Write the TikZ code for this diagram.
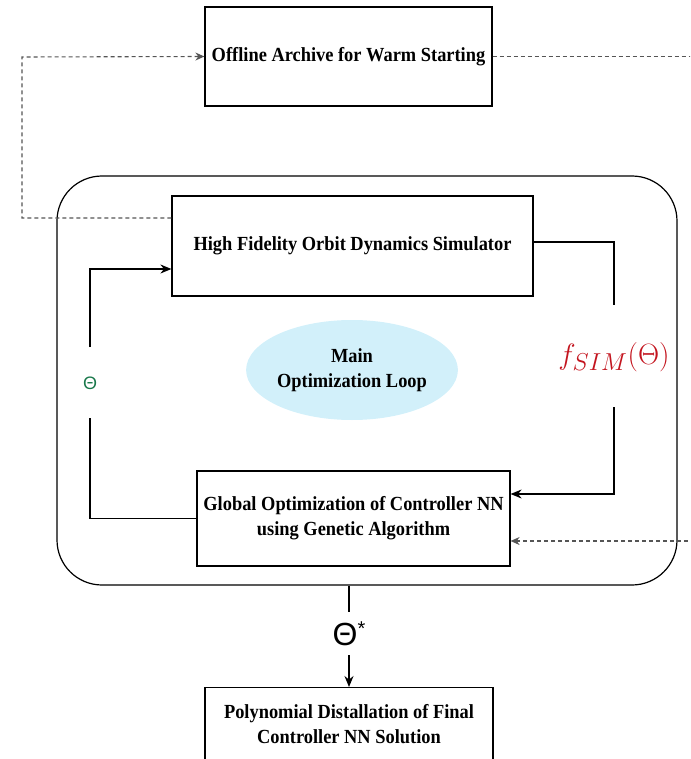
\documentclass[tikz,border=0pt]{standalone}
\usepackage{fontspec}
\setmainfont{Liberation Serif}[FakeStretch=0.92]
\newfontfamily\thetafont{Liberation Sans}
\usetikzlibrary{arrows.meta,shapes.geometric}
\definecolor{loopfill}{RGB}{210,240,250}
\definecolor{thetagreen}{RGB}{25,120,75}
\definecolor{fred}{RGB}{195,20,30}
\definecolor{dashgray}{RGB}{85,85,85}
\begin{document}
\begin{tikzpicture}[x=1pt,y=-1pt,
  lbl/.style={font=\fontsize{20}{25}\selectfont\bfseries, align=center, inner sep=0pt},
  box/.style={draw, line width=1.2pt, inner sep=0pt, lbl},
  flow/.style={line width=1.5pt, -{Stealth[length=11pt,width=9pt]}},
  plainline/.style={line width=1.5pt},
  dashflow/.style={draw=dashgray, line width=1.1pt, dash pattern=on 4pt off 3pt, -{Stealth[length=9pt,width=8pt]}}
]
\useasboundingbox (0,0) rectangle (690,759);
\clip (0,0) rectangle (690,759);

% outer loop frame
\node (loop) [draw, line width=1.2pt, rounded corners=45pt, minimum width=620pt, minimum height=409pt, inner sep=0pt] at (367,380.5) {};

% boxes
\node (arch) [box, minimum width=287pt, minimum height=99pt] at (348.5,56.5) {Offline Archive for Warm Starting};
\node (sim) [box, minimum width=361pt, minimum height=100pt] at (352.5,246) {High Fidelity Orbit Dynamics Simulator};
\node (ga) [box, minimum width=313pt, minimum height=95pt] at (353.5,518.5) {Global Optimization of Controller NN\\using Genetic Algorithm};
\node (poly) [draw, line width=1.2pt, minimum width=288pt, minimum height=120pt, inner sep=0pt, anchor=north] at (349,687) {};
\node (polytext) [lbl] at (349,724) {Polynomial Distallation of Final\\Controller NN Solution};

% ellipse
\node (main) [ellipse, fill=loopfill, minimum width=204pt, minimum height=100pt, lbl] at (352,370) {Main\\Optimization Loop};

% labels
\node (theta) [text=thetagreen, inner sep=0pt, font=\thetafont\fontsize{18}{18}\selectfont] at (90,383) {Θ};
\node (fsim) [text=fred, inner sep=0pt, font=\fontsize{24.88}{30}\selectfont] at (614,357) {\scalebox{1.18}{$f_{SIM}(\Theta)$}};
\node (thetastar) [inner sep=0pt, font=\thetafont\fontsize{32}{32}\selectfont] at (349,634) {Θ\raisebox{10pt}{\fontsize{20}{20}\selectfont *}};

% left loop
\coordinate (lA) at (90,418);
\coordinate (lB) at (90,347);
\draw[plainline] (ga.west) -| (lA);
\draw[flow] (lB) |- (sim.west |- 0,269);

% right loop
\coordinate (rA) at (614,305);
\coordinate (rB) at (614,407);
\draw[plainline] (sim.east |- 0,242) -| (rA);
\draw[flow] (rB) |- (ga.east |- 0,494);

% dashed archive connections
\coordinate (dl1) at (22,218);
\coordinate (dl2) at (22,57);
\draw[dashflow] (sim.west |- 0,218) -- (dl1) -- (dl2) -- (arch.west);
\coordinate (dr1) at (705,56.5);
\coordinate (dr2) at (705,541);
\draw[dashflow] (arch.east) -- (dr1) -- (dr2) -- (ga.east |- 0,541);

% output
\coordinate (oA) at (poly.north |- 0,612);
\coordinate (oB) at (poly.north |- 0,655);
\draw[plainline] (poly.north |- loop.south) -- (oA);
\draw[flow] (oB) -- (poly.north);
\end{tikzpicture}
\end{document}
